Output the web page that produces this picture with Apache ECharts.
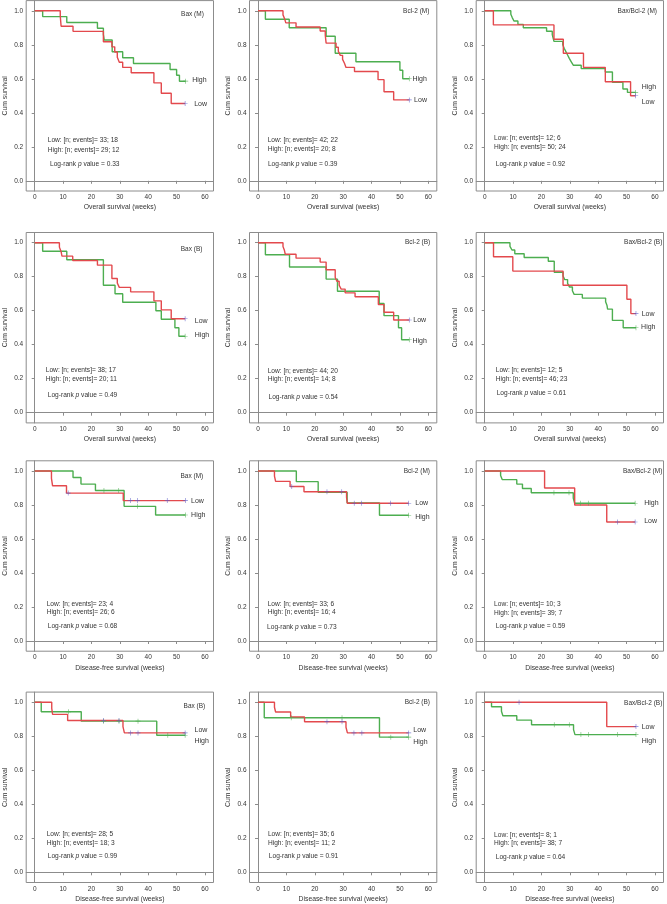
<!DOCTYPE html>
<html><head><meta charset="utf-8">
<script src="https://cdn.jsdelivr.net/npm/echarts@6/dist/echarts.min.js"></script>
<style>html,body{margin:0;padding:0;background:#fff}#c{width:667px;height:904px}</style>
</head><body><div id="c"></div>
<script>
// ---------------- DATA ----------------
const weekTicks = [0, 10, 20, 30, 40, 50, 60];
const survTicks = [0, 0.2, 0.4, 0.6, 0.8, 1.0];
const xNames = ['Overall survival (weeks)', 'Overall survival (weeks)', 'Disease-free survival (weeks)', 'Disease-free survival (weeks)'];
const titles = ['Bax (M)', 'Bcl-2 (M)', 'Bax/Bcl-2 (M)', 'Bax (B)', 'Bcl-2 (B)', 'Bax/Bcl-2 (B)',
                'Bax (M)', 'Bcl-2 (M)', 'Bax/Bcl-2 (M)', 'Bax (B)', 'Bcl-2 (B)', 'Bax/Bcl-2 (B)'];
const lowStats  = ['33; 18', '42; 22', '12; 6', '38; 17', '44; 20', '12; 5', '23; 4', '33; 6', '10; 3', '28; 5', '35; 6', '8; 1'];
const highStats = ['29; 12', '20; 8', '50; 24', '20; 11', '14; 8', '46; 23', '26; 6', '16; 4', '39; 7', '18; 3', '11; 2', '38; 7'];
const pValues   = ['0.33', '0.39', '0.92', '0.49', '0.54', '0.61', '0.68', '0.73', '0.59', '0.99', '0.91', '0.64'];

// Overall survival
const os_bax_m_low  = [[0,1],[9.0,0.970],[9.3,0.909],[13.5,0.879],[24.2,0.818],[27.2,0.788],[28.2,0.758],[29.1,0.727],[29.8,0.697],[31.0,0.667],[34.0,0.636],[42.0,0.576],[44.6,0.515],[48.1,0.455],[53.0,0.455]];
const os_bax_m_high = [[0,1],[2.8,0.966],[11.3,0.931],[22.1,0.897],[24.2,0.862],[24.5,0.828],[27.3,0.759],[31.0,0.724],[34.8,0.690],[47.7,0.655],[50.0,0.621],[51.0,0.586],[53.2,0.586]];
const os_bcl_m_low  = [[0,1],[8.8,0.976],[9.4,0.952],[9.8,0.929],[13.4,0.905],[21.9,0.881],[23.7,0.857],[24.0,0.810],[27.5,0.786],[28.3,0.762],[29.0,0.738],[29.8,0.714],[30.5,0.690],[31.0,0.667],[34.0,0.643],[42.3,0.595],[44.4,0.524],[47.8,0.476],[53.3,0.476]];
const os_bcl_m_high = [[0,1],[2.6,0.95],[11.0,0.90],[24.0,0.85],[27.2,0.75],[34.5,0.70],[50.0,0.65],[51.0,0.60],[53.3,0.60]];
const os_ratio_m_low  = [[0,1],[3.05,0.917],[24.4,0.833],[27.7,0.75],[34.8,0.667],[42.5,0.583],[51.4,0.5],[53.2,0.5]];
const os_ratio_m_high = [[0,1],[9.2,0.98],[9.7,0.96],[10.3,0.94],[11.7,0.92],[13.6,0.90],[21.8,0.88],[23.8,0.86],[24.4,0.82],[27.5,0.80],[28.0,0.78],[28.6,0.76],[29.2,0.74],[29.8,0.72],[30.5,0.70],[31.2,0.68],[34.0,0.66],[42.5,0.64],[45.0,0.58],[48.7,0.54],[50.3,0.52],[53.2,0.52]];
const os_bax_b_low  = [[0,1],[8.7,0.974],[9.3,0.947],[9.6,0.921],[13.4,0.895],[22.1,0.868],[27.2,0.789],[29.1,0.763],[29.8,0.737],[33.8,0.711],[42.0,0.658],[44.6,0.605],[48.1,0.553],[53.0,0.553]];
const os_bax_b_high = [[0,1],[2.8,0.95],[11.3,0.90],[24.2,0.75],[28.3,0.70],[31.0,0.65],[42.7,0.60],[44.6,0.55],[49.4,0.50],[50.8,0.45],[53.0,0.45]];
const os_bcl_b_low  = [[0,1],[8.8,0.977],[9.3,0.955],[9.6,0.932],[13.4,0.909],[21.9,0.886],[24.0,0.841],[27.2,0.795],[27.8,0.773],[28.6,0.750],[29.3,0.727],[30.7,0.705],[34.2,0.682],[42.4,0.636],[44.4,0.591],[47.8,0.545],[53.3,0.545]];
const os_bcl_b_high = [[0,1],[2.6,0.929],[11.1,0.857],[24.0,0.786],[28.0,0.714],[42.7,0.643],[44.4,0.571],[49.5,0.5],[50.6,0.429],[53.3,0.429]];
const os_ratio_b_low  = [[0,1],[3.1,0.917],[9.9,0.833],[27.6,0.75],[50.1,0.667],[51.5,0.583],[53.3,0.583]];
const os_ratio_b_high = [[0,1],[8.9,0.978],[9.6,0.957],[10.6,0.935],[13.9,0.913],[22.4,0.891],[24.5,0.826],[27.6,0.804],[28.2,0.783],[29.2,0.761],[29.9,0.739],[30.9,0.717],[31.5,0.696],[34.4,0.674],[42.6,0.652],[43.1,0.630],[43.3,0.609],[45.0,0.543],[48.8,0.5],[53.3,0.5]];

// Disease-free survival
const dfs_bax_m_low  = [[0,1],[5.9,0.957],[6.3,0.913],[11.2,0.870],[31.2,0.826],[53.1,0.826]];
const dfs_bax_m_high = [[0,1],[13.5,0.962],[16.3,0.923],[21.4,0.885],[31.5,0.792],[42.6,0.741],[53.1,0.741]];
const dfs_bcl_m_low  = [[0,1],[5.8,0.970],[6.2,0.939],[11.3,0.909],[16.2,0.878],[31.2,0.845],[31.5,0.810],[53.1,0.810]];
const dfs_bcl_m_high = [[0,1],[13.5,0.9375],[21.2,0.875],[31.4,0.8125],[42.8,0.74],[53.1,0.74]];
const dfs_ratio_m_low  = [[0,1],[21.1,0.9],[31.7,0.8],[43.0,0.7],[53.0,0.7]];
const dfs_ratio_m_high = [[0,1],[5.6,0.974],[6.2,0.949],[11.3,0.923],[13.3,0.897],[16.4,0.872],[31.2,0.841],[31.7,0.810],[53.0,0.810]];
const dfs_bax_b_low  = [[0,1],[6.0,0.964],[6.3,0.929],[11.6,0.893],[31.1,0.857],[31.6,0.820],[53.0,0.820]];
const dfs_bax_b_high = [[0,1],[2.3,0.944],[16.4,0.889],[43.0,0.806],[53.0,0.806]];
const dfs_bcl_b_low  = [[0,1],[5.8,0.971],[6.2,0.943],[11.5,0.914],[16.4,0.886],[31.0,0.853],[31.5,0.820],[53.1,0.820]];
const dfs_bcl_b_high = [[0,1],[2.2,0.909],[42.8,0.795],[53.1,0.795]];
const dfs_ratio_b_low  = [[0,1],[43.0,0.857],[53.3,0.857]];
const dfs_ratio_b_high = [[0,1],[2.4,0.974],[5.9,0.947],[6.4,0.921],[11.3,0.895],[16.5,0.868],[31.3,0.839],[31.8,0.810],[53.3,0.810]];

// Censored observations
const cens_os_bax_m_low = [[53.0,0.455]], cens_os_bax_m_high = [[53.2,0.586]];
const cens_os_bcl_m_low = [[53.3,0.476]], cens_os_bcl_m_high = [[53.3,0.60]];
const cens_os_ratio_m_low = [[53.2,0.5]], cens_os_ratio_m_high = [[53.2,0.52]];
const cens_os_bax_b_low = [[53.0,0.553]], cens_os_bax_b_high = [[53.0,0.45]];
const cens_os_bcl_b_low = [[53.3,0.545]], cens_os_bcl_b_high = [[53.3,0.429]];
const cens_os_ratio_b_low = [[53.3,0.583]], cens_os_ratio_b_high = [[53.3,0.5]];
const cens_dfs_bax_m_low = [[11.8,0.870],[33.7,0.826],[36.2,0.826],[46.7,0.826],[53.1,0.826]];
const cens_dfs_bax_m_high = [[24.4,0.885],[29.6,0.885],[36.2,0.792],[53.1,0.741]];
const cens_dfs_bcl_m_low = [[11.9,0.909],[24.3,0.878],[29.5,0.878],[33.9,0.810],[36.4,0.810],[46.7,0.810],[53.1,0.810]];
const cens_dfs_bcl_m_high = [[53.1,0.74]];
const cens_dfs_ratio_m_low = [[46.8,0.7],[53.0,0.7]];
const cens_dfs_ratio_m_high = [[24.4,0.872],[29.7,0.872],[33.8,0.810],[36.5,0.810],[53.0,0.810]];
const cens_dfs_bax_b_low = [[24.3,0.893],[29.7,0.893],[33.8,0.820],[36.4,0.820],[53.0,0.820]];
const cens_dfs_bax_b_high = [[11.9,0.944],[24.3,0.889],[29.7,0.889],[36.4,0.889],[46.9,0.806],[53.0,0.806]];
const cens_dfs_bcl_b_low = [[24.3,0.886],[29.6,0.886],[33.8,0.820],[36.6,0.820],[53.1,0.820]];
const cens_dfs_bcl_b_high = [[11.7,0.909],[29.6,0.909],[46.8,0.795],[53.1,0.795]];
const cens_dfs_ratio_b_low = [[12.1,1.0],[53.3,0.857]];
const cens_dfs_ratio_b_high = [[24.5,0.868],[29.8,0.868],[33.9,0.810],[36.6,0.810],[46.8,0.810],[53.3,0.810]];

const lowCurves  = [os_bax_m_low, os_bcl_m_low, os_ratio_m_low, os_bax_b_low, os_bcl_b_low, os_ratio_b_low,
                    dfs_bax_m_low, dfs_bcl_m_low, dfs_ratio_m_low, dfs_bax_b_low, dfs_bcl_b_low, dfs_ratio_b_low];
const highCurves = [os_bax_m_high, os_bcl_m_high, os_ratio_m_high, os_bax_b_high, os_bcl_b_high, os_ratio_b_high,
                    dfs_bax_m_high, dfs_bcl_m_high, dfs_ratio_m_high, dfs_bax_b_high, dfs_bcl_b_high, dfs_ratio_b_high];
const lowCens  = [cens_os_bax_m_low, cens_os_bcl_m_low, cens_os_ratio_m_low, cens_os_bax_b_low, cens_os_bcl_b_low, cens_os_ratio_b_low,
                  cens_dfs_bax_m_low, cens_dfs_bcl_m_low, cens_dfs_ratio_m_low, cens_dfs_bax_b_low, cens_dfs_bcl_b_low, cens_dfs_ratio_b_low];
const highCens = [cens_os_bax_m_high, cens_os_bcl_m_high, cens_os_ratio_m_high, cens_os_bax_b_high, cens_os_bcl_b_high, cens_os_ratio_b_high,
                  cens_dfs_bax_m_high, cens_dfs_bcl_m_high, cens_dfs_ratio_m_high, cens_dfs_bax_b_high, cens_dfs_bcl_b_high, cens_dfs_ratio_b_high];

// ---------------- LAYOUT (positions in data coordinates) ----------------
const titlePos = [[59.6,0.978],[60.4,1.0],[60.7,1.0],[59.1,0.961],[60.7,1.0],[62.6,1.0],[59.4,0.97],[60.6,1.0],[62.6,1.0],[60.1,0.976],[60.6,1.0],[62.6,0.996]];
const statPos = [ // [xLow, yLow, yHigh, xP, yP]
  [4.6,0.239,0.182,5.4,0.10],[3.4,0.239,0.186,3.5,0.10],[3.3,0.248,0.196,3.9,0.10],
  [3.9,0.25,0.20,4.6,0.103],[3.4,0.247,0.198,3.7,0.09],[3.9,0.25,0.195,4.2,0.113],
  [4.2,0.216,0.169,4.6,0.09],[3.4,0.216,0.169,3.2,0.08],[3.3,0.216,0.163,3.9,0.09],
  [4.2,0.222,0.171,4.6,0.095],[3.5,0.225,0.173,3.8,0.093],[3.3,0.22,0.171,3.9,0.087]];
const endLabelPos = [ // [xLow, yLow, xHigh, yHigh]
  [56.2,0.454,55.5,0.59],[55.0,0.476,54.4,0.60],[55.3,0.466,55.3,0.55],
  [56.4,0.537,56.4,0.459],[54.7,0.545,54.4,0.424],[55.3,0.583,55.1,0.504],
  [55.1,0.824,55.1,0.741],[55.4,0.81,55.4,0.731],[56.2,0.708,56.2,0.813],
  [56.3,0.838,56.3,0.773],[54.7,0.834,54.7,0.769],[55.3,0.857,55.3,0.772]];

const W = 187.3, H = 190.4;
const colLeft = [26.2, 249.5, 476.2];
const rowTop = [0.6, 232.5, 460.8, 692.1];
const X_MIN = -3, X_MAX = 63, Y_MIN = -0.06, Y_MAX = 1.06;
const RED = '#e3494d', GREEN = '#4dae50', CENS_LOW = '#5d5fc9';
const FONT = '"Liberation Sans", Arial, sans-serif';
const FRAME = '#8c8c8c', TXT = '#333';
const PLUS = 'path://M-0.5,-4H0.5V-0.5H4V0.5H0.5V4H-0.5V0.5H-4V-0.5H-0.5Z';

const grids = [], xAxes = [], yAxes = [], series = [];
for (let i = 0; i < 12; i++) {
  const r = Math.floor(i / 3), c = i % 3;
  grids.push({left: colLeft[c], top: rowTop[r], width: W, height: H, show: true,
    borderColor: FRAME, borderWidth: 1, backgroundColor: 'transparent'});
  xAxes.push({type: 'value', gridIndex: i, min: X_MIN, max: X_MAX,
    name: xNames[r], nameLocation: 'middle', nameGap: 13,
    nameTextStyle: {fontSize: 6.8, color: TXT, fontFamily: FONT},
    axisLine: {show: true, lineStyle: {color: FRAME}},
    axisTick: {show: true, length: 3, customValues: weekTicks, lineStyle: {color: FRAME}},
    axisLabel: {customValues: weekTicks, fontSize: 6.5, margin: 3, color: TXT, fontFamily: FONT},
    splitLine: {show: false}});
  yAxes.push({type: 'value', gridIndex: i, min: Y_MIN, max: Y_MAX,
    name: 'Cum survival', nameLocation: 'middle', nameGap: 18,
    nameTextStyle: {fontSize: 6.8, color: TXT, fontFamily: FONT},
    axisLine: {show: true, lineStyle: {color: FRAME}},
    axisTick: {show: true, length: 3, customValues: survTicks, lineStyle: {color: FRAME}},
    axisLabel: {customValues: survTicks, fontSize: 6.5, margin: 3, color: TXT, fontFamily: FONT,
      formatter: v => Number(v).toFixed(1)},
    splitLine: {show: false}});
  series.push({type: 'line', xAxisIndex: i, yAxisIndex: i, data: highCurves[i], step: 'end',
    symbol: 'none', lineStyle: {color: GREEN, width: 1.4}, silent: true, z: 2});
  series.push({type: 'line', xAxisIndex: i, yAxisIndex: i, data: lowCurves[i], step: 'end',
    symbol: 'none', lineStyle: {color: RED, width: 1.4}, silent: true, z: 3});
  series.push({type: 'scatter', xAxisIndex: i, yAxisIndex: i, data: highCens[i], symbol: PLUS,
    symbolSize: 5, itemStyle: {color: GREEN}, silent: true, z: 4});
  series.push({type: 'scatter', xAxisIndex: i, yAxisIndex: i, data: lowCens[i], symbol: PLUS,
    symbolSize: 5, itemStyle: {color: CENS_LOW}, silent: true, z: 5});
}

const chart = echarts.init(document.getElementById('c'), null, {renderer: 'canvas'});
chart.setOption({animation: false, backgroundColor: '#fff', grid: grids, xAxis: xAxes, yAxis: yAxes, series: series});

function txt(x, y, text, align, size, extra) {
  return Object.assign({type: 'text', x: x, y: y, silent: true, z: 10,
    style: {text: text, fill: TXT, fontSize: size, fontFamily: FONT, align: align, verticalAlign: 'middle',
      rich: {i: {fontStyle: 'italic', fontSize: size, fontFamily: FONT, fill: TXT}}}}, extra || {});
}
const graphics = [];
for (let i = 0; i < 12; i++) {
  const P = v => chart.convertToPixel({gridIndex: i}, v);
  let p = P(titlePos[i]); graphics.push(txt(p[0], p[1], titles[i], 'right', 6.5));
  const s = statPos[i];
  p = P([s[0], s[1]]); graphics.push(txt(p[0], p[1], 'Low: [n; events]= ' + lowStats[i], 'left', 6.6));
  p = P([s[0], s[2]]); graphics.push(txt(p[0], p[1], 'High: [n; events]= ' + highStats[i], 'left', 6.6));
  p = P([s[3], s[4]]); graphics.push(txt(p[0], p[1], 'Log-rank {i|p} value = ' + pValues[i], 'left', 6.6));
  const e = endLabelPos[i];
  p = P([e[0], e[1]]); graphics.push(txt(p[0], p[1], 'Low', 'left', 7));
  p = P([e[2], e[3]]); graphics.push(txt(p[0], p[1], 'High', 'left', 7));
}
chart.setOption({graphic: graphics});
</script></body></html>
